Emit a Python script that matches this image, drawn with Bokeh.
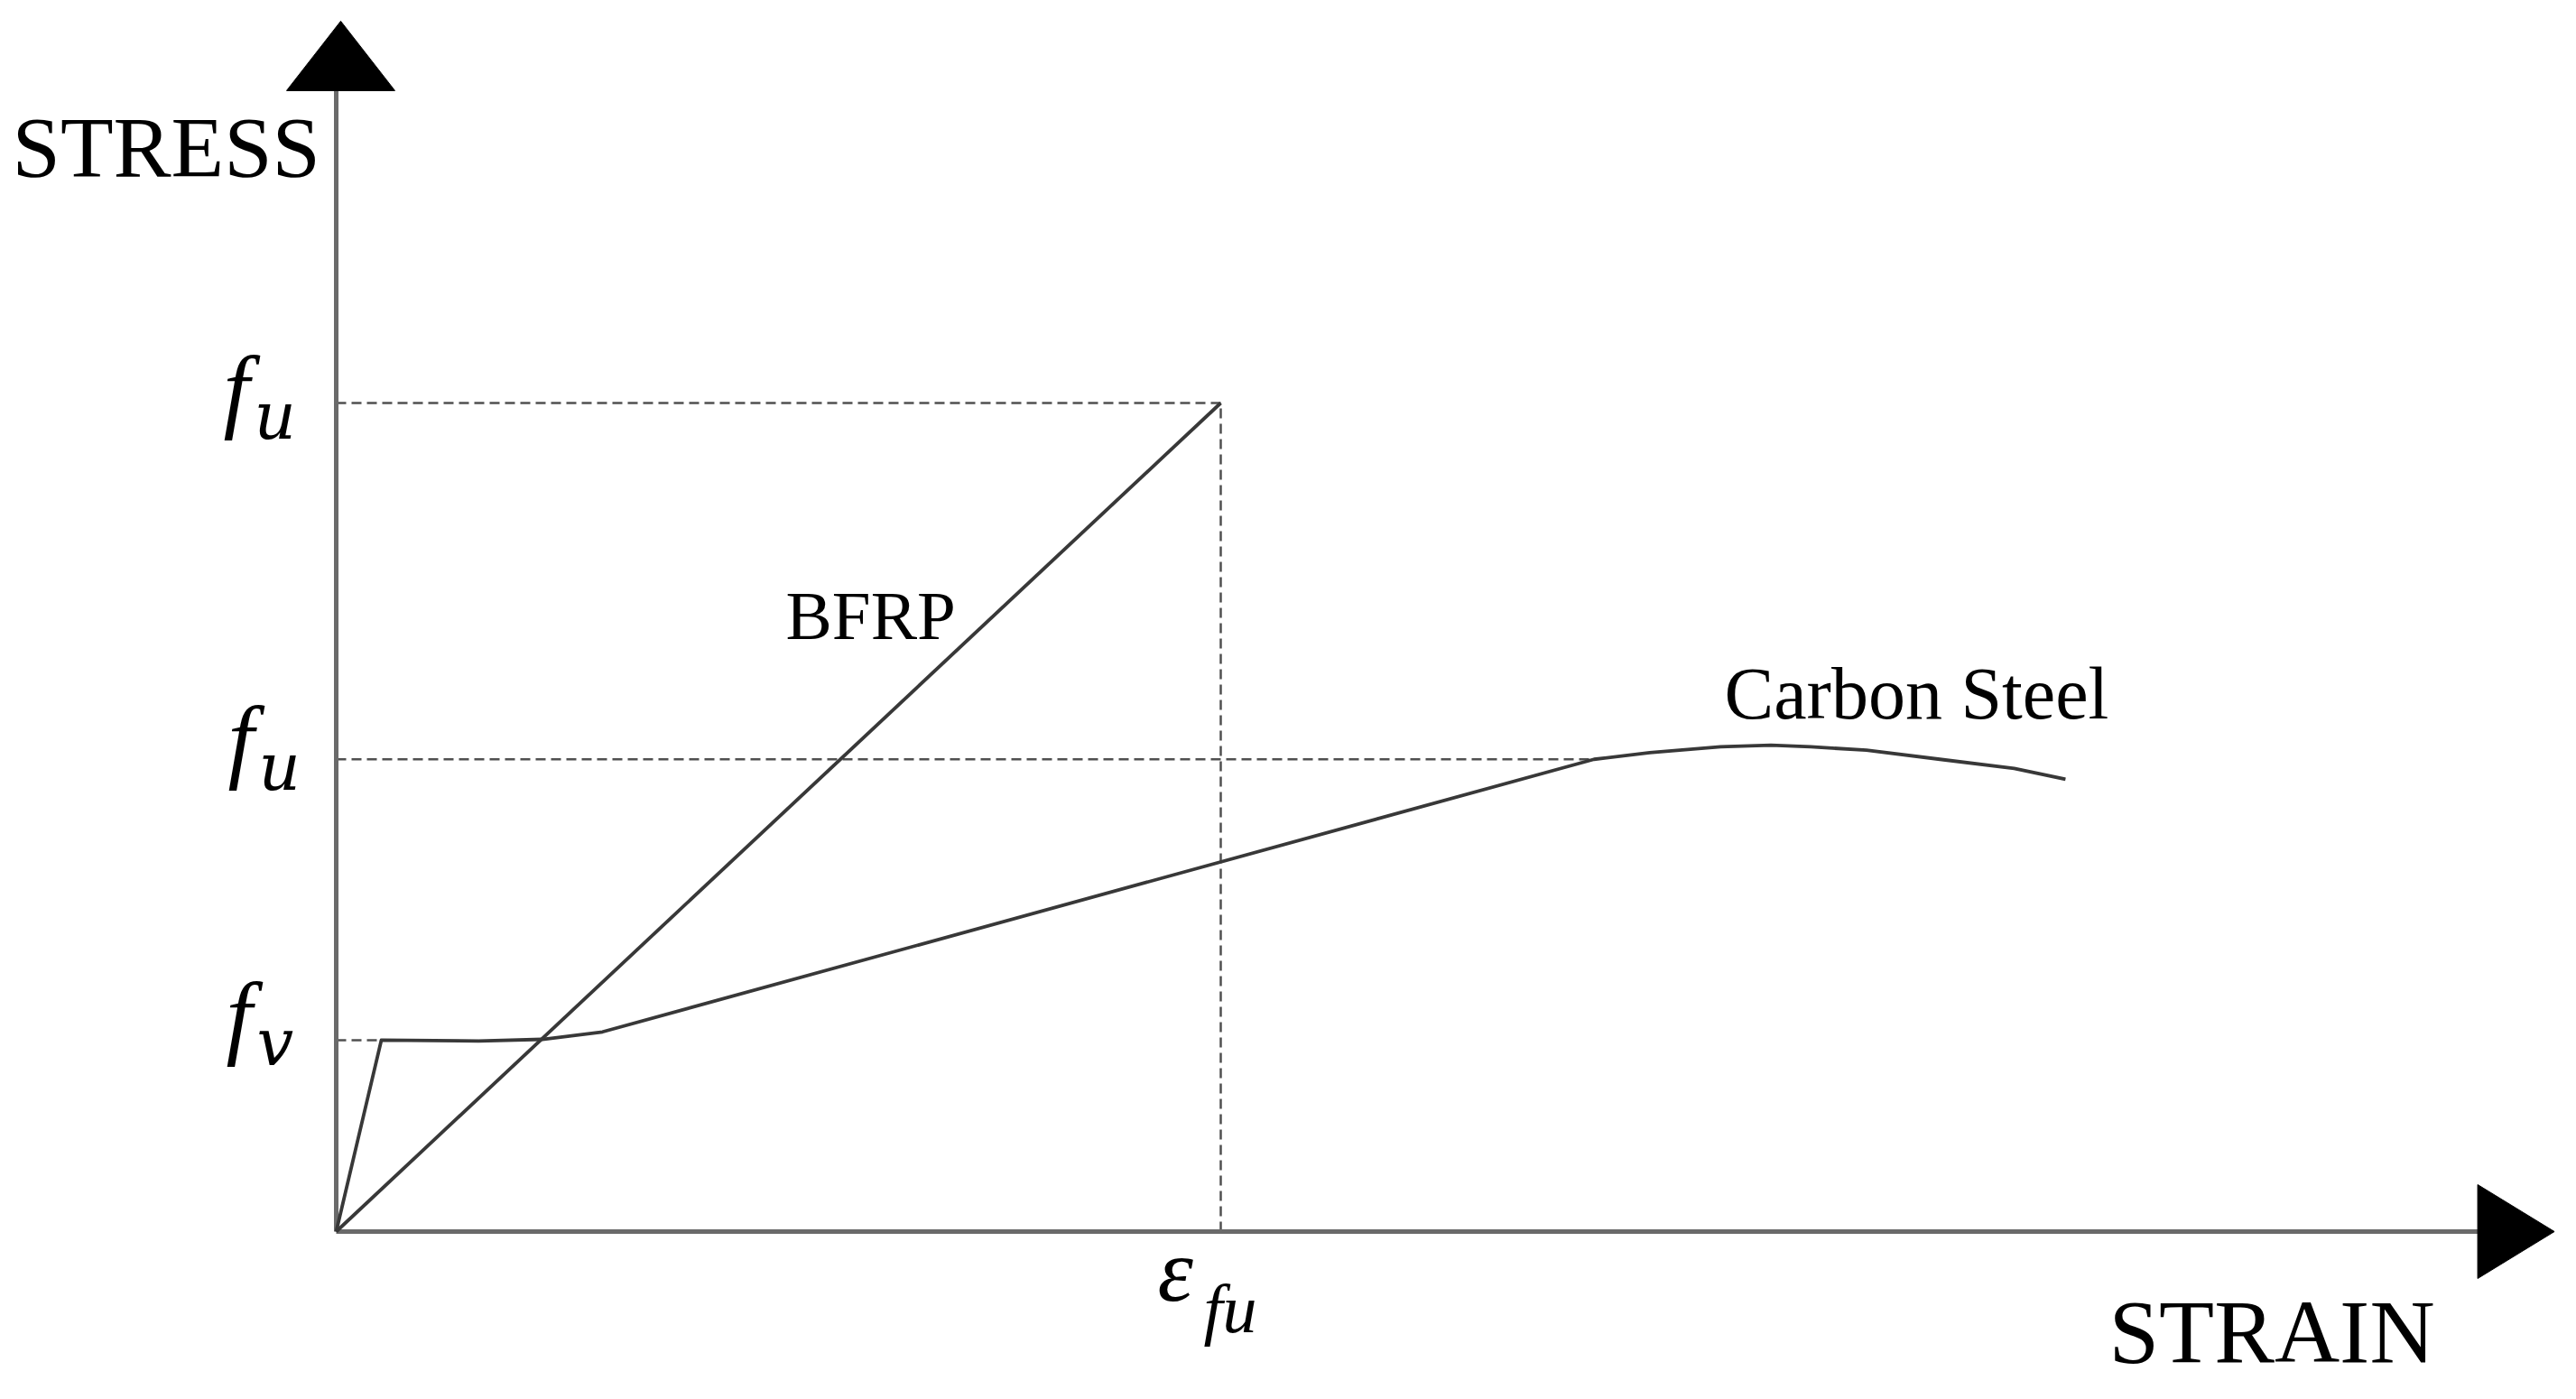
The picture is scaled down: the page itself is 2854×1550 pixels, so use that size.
from bokeh.plotting import figure
from bokeh.models import Range1d, ColumnDataSource
from bokeh.embed import file_html
from bokeh.resources import INLINE
from bokeh.core.properties import value

# ---- data (schematic: strain in units of eps_fu, stress in units of BFRP f_u) ----
bfrp_strain = [0.0, 1.0]
bfrp_stress = [0.0, 1.0]

steel_strain = [0.0, 0.051, 0.161, 0.233, 0.301, 1.422, 1.485, 1.565, 1.622,
                1.667, 1.730, 1.813, 1.897, 1.955]
steel_stress = [0.0, 0.231, 0.230, 0.232, 0.241, 0.570, 0.578, 0.585, 0.587,
                0.585, 0.581, 0.570, 0.559, 0.546]

eps_fu = 1.0
fu_bfrp = 1.0
fu_steel = 0.570
fy_steel = 0.231
knee_strain = 1.422
yield_strain = 0.051

level_values = [fu_bfrp, fu_steel, fy_steel]
level_main = ["f", "f", "f"]
level_sub = ["u", "u", "v"]

x_axis_end = 2.421
y_axis_end = 1.377

# ---- figure ----
W, H = 2838, 1534
OX, OY = 372, 1364          # origin position in the picture (px)
sx, sy = 980.0, 918.0       # px per data unit
X0, X1 = -OX / sx, (W - OX) / sx
Y0, Y1 = (OY - H) / sy, OY / sy

p = figure(width=W, height=H, output_backend="svg", toolbar_location=None,
           x_range=Range1d(X0, X1), y_range=Range1d(Y0, Y1),
           min_border=0, min_border_left=0, min_border_right=0,
           min_border_top=0, min_border_bottom=0)
p.axis.visible = False
p.grid.visible = False
p.outline_line_color = None
p.background_fill_color = "white"
p.border_fill_color = "white"

SERIF = value("Liberation Serif")
SERIF2 = value("DejaVu Serif")
AX_COL = "#6a6a6a"
LINE_COL = "#383838"
DASH_COL = "#505050"
TS = 0.35  # baseline correction (fraction of font size)

# dashed reference lines
p.segment(x0=[0, eps_fu, 0, 0], y0=[fu_bfrp, 0, fu_steel, fy_steel],
          x1=[eps_fu, eps_fu, knee_strain, yield_strain],
          y1=[fu_bfrp, fu_bfrp, fu_steel, fy_steel],
          line_color=DASH_COL, line_width=2.5, line_dash="11 6")

# axes
p.segment(x0=[0, 0], y0=[0, 0], x1=[0, x_axis_end], y1=[y_axis_end, 0],
          line_color=AX_COL, line_width=5)

# arrow heads (sizes in pixels converted to data units)
ya_len, ya_half, ya_shift = 77 / sy, 60 / sx, 5 / sx
xa_len, xa_half = 85 / sx, 52 / sy
p.patch([ya_shift - ya_half, ya_shift + ya_half, ya_shift],
        [y_axis_end, y_axis_end, y_axis_end + ya_len],
        fill_color="black", line_color="black", line_width=1)
p.patch([x_axis_end, x_axis_end, x_axis_end + xa_len], [0 - xa_half, 0 + xa_half, 0],
        fill_color="black", line_color="black", line_width=1)

# curves
p.line(bfrp_strain, bfrp_stress, line_color=LINE_COL, line_width=3.8)
p.line(steel_strain, steel_stress, line_color=LINE_COL, line_width=3.8,
       line_join="round")


def label(x, y, txt, size, xo=0, yo=0, italic=False, font=SERIF):
    p.text(x=[x], y=[y], text=[txt], x_offset=[xo], y_offset=[yo - TS * size],
           text_font=font, text_font_style="italic" if italic else "normal",
           text_font_size=f"{size}px", text_color="black",
           text_baseline="alphabetic", text_align="left")


# axis titles and curve labels
label(0, 0, "STRESS", 96, xo=13 - OX, yo=197 - OY)
label(0, 0, "STRAIN", 100, xo=2336 - OX, yo=1510 - OY)
label(0, 0, "BFRP", 77, xo=870 - OX, yo=708 - OY)
label(0, 0, "Carbon Steel", 82, xo=1910 - OX, yo=797 - OY)

# stress level labels (f with subscript)
F_SIZE, SUB_SIZE = 104, 72
main_src = ColumnDataSource(dict(x=[0, 0, 0], y=level_values, t=level_main,
                                 xo=[-125, -120, -122],
                                 yo=[v - TS * F_SIZE for v in [20, 14, 8]]))
sub_src = ColumnDataSource(dict(x=[0, 0, 0], y=level_values, t=level_sub,
                                xo=[-91, -86, -88],
                                yo=[v - TS * SUB_SIZE for v in [40, 34, 28]]))
p.text(x="x", y="y", text="t", source=main_src, x_offset="xo", y_offset="yo",
       text_font=SERIF, text_font_style="italic", text_font_size=f"{F_SIZE}px",
       text_color="black", text_baseline="alphabetic", text_align="left")
p.text(x="x", y="y", text="t", source=sub_src, x_offset="xo", y_offset="yo",
       text_font=SERIF2, text_font_style="italic", text_font_size=f"{SUB_SIZE}px",
       text_color="black", text_baseline="alphabetic", text_align="left")

# strain label epsilon_fu
label(eps_fu, 0, "ε", 100, xo=-70, yo=78, italic=True)
label(eps_fu, 0, "fu", 76, xo=-19, yo=112, italic=True)

open("out.html", "w").write(file_html(p, INLINE))
